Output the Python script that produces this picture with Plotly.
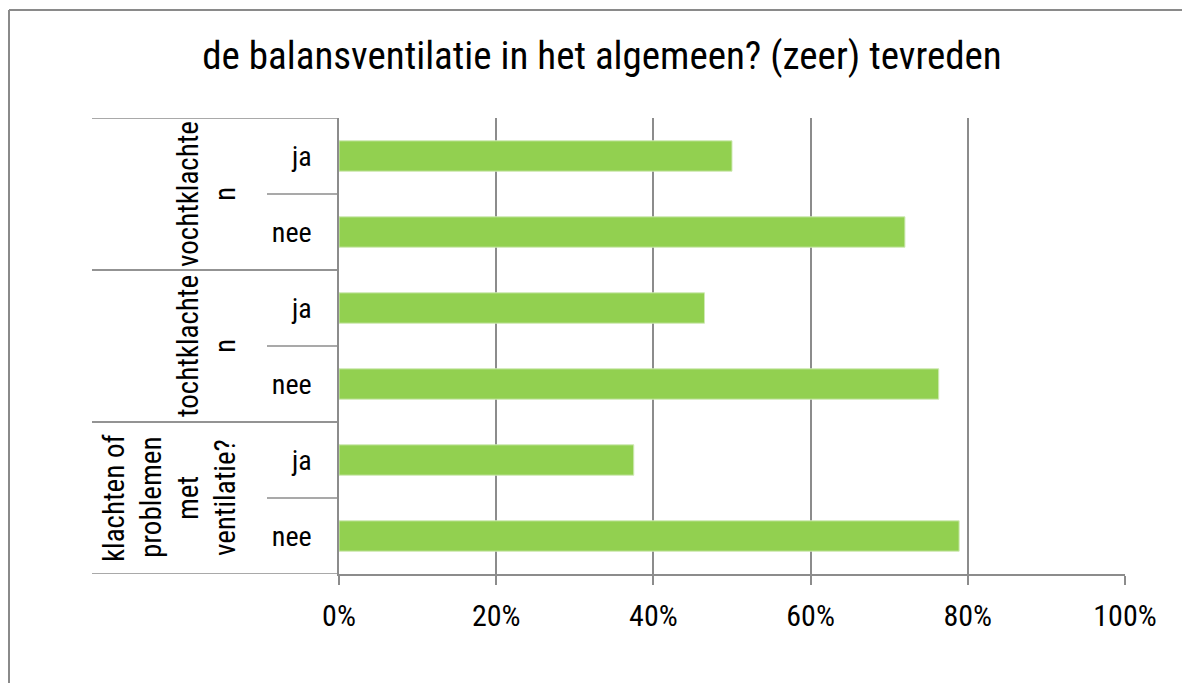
import plotly.graph_objects as go

# ---- data (top-to-bottom order as in the chart) ----
group_names = ["vochtklachten", "tochtklachten", "klachten of problemen met ventilatie?"]
group_lines = [["vochtklachte", "n"], ["tochtklachte", "n"], ["klachten of", "problemen", "met", "ventilatie?"]]
answers = ["ja", "nee", "ja", "nee", "ja", "nee"]
answer_group = [0, 0, 1, 1, 2, 2]
values = [0.50, 0.72, 0.465, 0.763, 0.375, 0.789]
x_tickvals = [0, 0.2, 0.4, 0.6, 0.8, 1.0]
x_ticktext = ["0%", "20%", "40%", "60%", "80%", "100%"]
title_text = "de balansventilatie in het algemeen? (zeer) tevreden"

FONT = "Liberation Sans Narrow, Arial Narrow, Roboto Condensed, Liberation Sans, sans-serif"
GRID = "#8c8c8c"
BAR = "#92D050"

n = len(answers)
ypos = [n - 1 - i for i in range(n)]

fig = go.Figure()
fig.add_trace(go.Bar(
    x=values, y=ypos, orientation="h", width=0.4,
    marker=dict(color=BAR, line=dict(color="#cfe9b5", width=1)),
    hoverinfo="x+text", text=answers, textposition="none",
))

shapes = []
annotations = []
for g in range(len(group_names)):
    idx = [i for i, a in enumerate(answer_group) if a == g]
    top = ypos[idx[0]] + 0.5
    bottom = ypos[idx[-1]] - 0.5
    for yb in (top, bottom):
        shapes.append(dict(type="line", xref="paper", yref="y", xsizemode="pixel", xanchor=0,
                           x0=-247, x1=0, y0=yb, y1=yb, line=dict(color=GRID, width=1.5)))
    for k in range(len(idx) - 1):
        yb = ypos[idx[k]] - 0.5
        shapes.append(dict(type="line", xref="paper", yref="y", xsizemode="pixel", xanchor=0,
                           x0=-72, x1=0, y0=yb, y1=yb, line=dict(color=GRID, width=1.5)))
    ymid = (top + bottom) / 2
    lines = group_lines[g]
    for j, ln in enumerate(lines):
        offset = (len(lines) - 1 - j) * 37
        annotations.append(dict(text=ln, xref="paper", yref="y", x=0, y=ymid,
                                 xshift=-114 - offset, xanchor="center", yanchor="middle",
                                 textangle=-90, showarrow=False,
                                 font=dict(family=FONT, size=29, color="black")))

# chart frame (left and top edges visible)
shapes.append(dict(type="line", xref="paper", yref="paper", xsizemode="pixel", xanchor=0,
                   ysizemode="pixel", yanchor=1, x0=-330, x1=-330, y0=108, y1=-700,
                   line=dict(color="#8a8a8a", width=2)))
shapes.append(dict(type="line", xref="paper", yref="paper", xsizemode="pixel", xanchor=0,
                   ysizemode="pixel", yanchor=1, x0=-330, x1=900, y0=108, y1=108,
                   line=dict(color="#8a8a8a", width=2)))

fig.update_layout(
    width=1190, height=683,
    margin=dict(l=331, r=73, t=110, b=117),
    paper_bgcolor="white", plot_bgcolor="white",
    showlegend=False,
    title=dict(text=title_text, x=594 / 1190, xref="container", xanchor="center",
               y=1 - 47 / 683, yref="container", yanchor="middle",
               font=dict(family=FONT, size=39, color="black")),
    shapes=shapes, annotations=annotations,
    xaxis=dict(range=[0, 1], tickvals=x_tickvals, ticktext=x_ticktext,
               showgrid=True, gridcolor=GRID, gridwidth=1.5,
               showline=True, linecolor=GRID, linewidth=1.5,
               ticks="outside", ticklen=9, tickcolor=GRID, tickwidth=1.5,
               ticklabelstandoff=5, zeroline=False,
               tickfont=dict(family=FONT, size=30, color="black")),
    yaxis=dict(range=[-0.5, n - 0.5], tickvals=ypos, ticktext=answers,
               showgrid=False, zeroline=False, showline=True, linecolor=GRID, linewidth=1.5,
               ticks="", ticklabelstandoff=20,
               tickfont=dict(family=FONT, size=28, color="black")),
)

fig.write_html("out.html")
